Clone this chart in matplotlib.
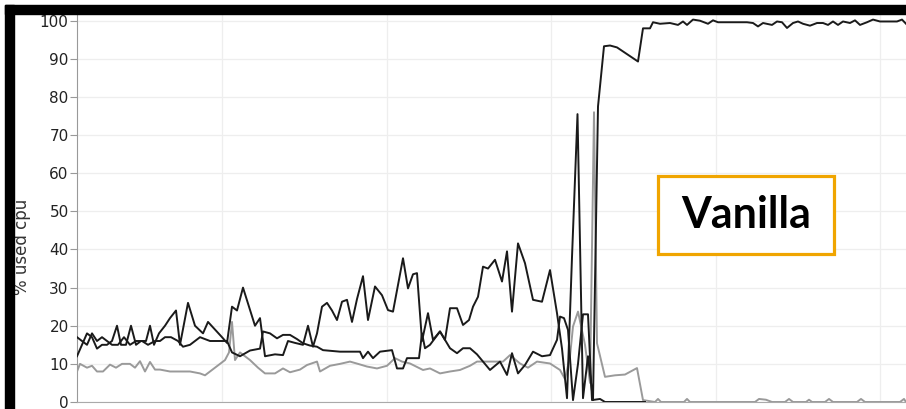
import matplotlib
matplotlib.use("Agg")
import matplotlib.pyplot as plt
from matplotlib.patches import Rectangle

# time axis (no labels shown in the picture), cpu usage in %
a_time = [77, 82, 87, 92, 97, 102, 107, 112, 117, 121, 126, 131, 136, 141, 146, 150,
          154, 159, 165, 170, 176, 180, 188, 195, 203, 208, 215, 222, 227, 232, 237,
          243, 255, 260, 265, 275, 283, 288, 295, 303, 308, 313, 317, 322, 327, 332,
          337, 342, 347, 352, 357, 363, 368, 375, 382, 388, 393, 403, 408, 413, 417,
          422, 428, 433, 440, 445, 450, 457, 463, 469, 473, 478, 483, 488, 495, 502,
          507, 512, 518, 525, 533, 542, 550, 557, 562, 567, 572, 577.5, 583, 588, 593,
          598, 604, 610, 617, 638, 643, 650, 653, 660, 670, 678, 683, 687, 693, 700,
          708, 713, 718, 730, 737, 747, 753, 758, 763, 772, 777, 782, 787, 793, 798,
          803, 810, 817, 823, 828, 833, 838, 843, 850, 855, 860, 867, 873, 880, 890,
          897, 902, 906]
a_cpu = [12, 15, 18, 17, 14, 15, 15, 16, 20, 15, 15, 20, 15, 16, 16, 20,
         15, 18, 20, 22, 24, 15, 26, 20, 18, 21, 19, 17, 15.5, 25, 24,
         30, 20, 22, 12, 12.5, 12.3, 16, 15.5, 15, 20, 14.5, 18, 25, 26, 24,
         21.5, 26.3, 26.8, 21, 27, 33, 21.5, 30.3, 28, 24.1, 23.7, 37.7, 29.8, 33.5, 33.8,
         16, 23.3, 16.3, 18.5, 16.3, 24.6, 24.6, 20.2, 21.5, 25, 27.6, 35.5, 35, 37.3, 31.6,
         39.5, 23.7, 41.6, 36.4, 26.8, 26.3, 34.6, 23.3, 14, 1, 38, 75.5, 1, 12, 0.5,
         77.5, 93.3, 93.5, 93, 89.3, 98, 98, 99.6, 99.2, 99.4, 98.9, 99.8, 98.9, 100.3, 100,
         99.2, 100.1, 99.6, 99.6, 99.6, 99.6, 99.4, 98.5, 99.4, 98.9, 99.8, 99.6, 98.1, 99.4, 99.8,
         99.2, 98.7, 99.4, 99.4, 98.9, 99.8, 98.9, 99.8, 99.4, 100.1, 98.9, 99.6, 100.3, 99.8, 99.8,
         99.8, 100.3, 99.2]

b_time = [77, 82, 87, 92, 97, 102, 107, 112, 118, 124, 130, 136, 142, 148, 155, 160,
          165, 171, 178, 183, 190, 200, 210, 227, 232, 240, 250, 260, 263, 270, 277,
          283, 290, 297, 303, 310, 317, 323, 340, 360, 363, 368, 373, 380, 392, 397,
          403, 407, 415, 419, 422, 425, 430, 440, 445, 450, 457, 463, 470, 477, 483,
          490, 500, 507, 512, 518, 525, 533, 542, 550, 557, 560, 564, 568, 573, 578,
          583, 588, 592, 600, 605, 645]
b_cpu = [17, 16, 15, 18, 16, 17, 16, 15, 15, 17, 15, 16, 16, 15, 16, 16,
         17, 17, 16, 14.5, 15, 17, 16, 16, 13, 12, 13.5, 14, 18.5, 18, 16.7,
         17.6, 17.6, 16.5, 15.4, 14.8, 14.5, 13.6, 13.2, 13.2, 11.5, 13.2, 11.5, 13.2, 13.6, 8.8,
         8.8, 11.5, 11.5, 11.5, 18, 14.1, 15, 18.5, 16.3, 14.1, 12.8, 14.1, 14.1, 12.5, 10.6,
         8.4, 10.6, 7.1, 12.8, 7.5, 9.7, 13.2, 12, 12.3, 16.3, 22.4, 22, 18.9, 0.5, 10,
         23, 23, 0.5, 0.8, 0, 0]

c_time = [77, 80, 87, 92, 97, 103, 110, 116, 122, 130, 135, 140, 145, 150, 155, 160,
          170, 180, 190, 200, 205, 210, 220, 225, 229, 232, 235, 240, 250, 258, 265,
          275, 283, 290, 300, 307, 317, 320, 330, 340, 350, 358, 367, 377, 387, 395,
          402, 410, 423, 430, 440, 450, 460, 470, 477, 490, 503, 510, 520, 528, 537,
          550, 560, 565, 570, 573, 578, 585, 590, 594, 597, 605, 615, 625, 637, 643,
          655, 658, 661, 684, 687, 690, 755, 759, 766, 772, 785, 789, 793, 806, 809,
          812, 825, 829, 833, 857, 861, 865, 900, 904, 906]
c_cpu = [8, 10, 9, 9.5, 8, 8, 9.8, 9, 10, 10, 9, 10.7, 8, 10.5, 8.5, 8.5,
         8, 8, 8, 7.5, 7, 8, 10, 11, 13, 21, 11, 13, 11, 9, 7.5,
         7.5, 8.8, 7.8, 8.5, 9.7, 10.6, 8, 9.5, 10, 10.6, 10, 9.3, 8.8, 9.5, 11.5,
         10.6, 10.1, 8.4, 8.8, 7.5, 8, 8.4, 9.5, 10.6, 10.6, 10.6, 12.3, 10.1, 9, 10.6,
         10.1, 8.4, 6, 12, 19.8, 23.7, 15, 5, 76, 15.4, 6.6, 7, 7.2, 8.9, 0.5,
         0, 0.8, 0, 0, 0.8, 0, 0, 0.8, 0.6, 0, 0, 0.8, 0, 0, 0.6,
         0, 0, 0.8, 0, 0, 0.8, 0, 0, 0.8, 0]

y_ticks = [0, 10, 20, 30, 40, 50, 60, 70, 80, 90, 100]
x_grid = [222, 387, 551, 716, 880]

W, H = 906, 409
fig = plt.figure(figsize=(W / 100, H / 100), dpi=100)
ax = fig.add_axes([77 / W, 7 / H, 829 / W, 387 / H])

ax.plot(c_time, c_cpu, color="#9a9a9a", lw=1.4, zorder=3)
ax.plot(b_time, b_cpu, color="#1a1a1a", lw=1.4, zorder=4)
ax.plot(a_time, a_cpu, color="#1a1a1a", lw=1.4, zorder=5)

ax.set_xlim(77, 906)
ax.set_ylim(0, 101.5)
ax.set_yticks(y_ticks)
ax.set_xticks(x_grid)
ax.tick_params(axis="x", length=0, labelbottom=False)
ax.tick_params(axis="y", length=5, width=0.8, color="#999999", pad=1,
               labelsize=11, labelcolor="#222222")
ax.grid(True, color="#eeeeee", lw=0.9)
ax.set_axisbelow(True)
for s in ["top", "right"]:
    ax.spines[s].set_visible(False)
ax.spines["left"].set_color("#999999")
ax.spines["bottom"].set_color("#aaaaaa")
ax.set_ylabel("% used cpu", fontsize=12, color="#333333")
ax.yaxis.set_label_coords(-0.0555, 0.40)

# black frame strips of the screenshot
fig.patches.append(Rectangle((5 / W, (H - 14) / H), (W - 5) / W, 9 / H,
                             transform=fig.transFigure, color="black", zorder=10))
fig.patches.append(Rectangle((5 / W, 0), 9 / W, (H - 5) / H,
                             transform=fig.transFigure, color="black", zorder=10))

# "Vanilla" label box
fig.patches.append(Rectangle((658 / W, (H - 254) / H), 176 / W, 78 / H,
                             transform=fig.transFigure, facecolor="white",
                             edgecolor="#F0A500", lw=2.3, zorder=10))
fig.text(746 / W, (H - 215) / H, "Vanilla", fontsize=31, fontweight="bold",
         family="Lato", ha="center", va="center", color="black", zorder=11)

fig.savefig("out.png", dpi=100)
